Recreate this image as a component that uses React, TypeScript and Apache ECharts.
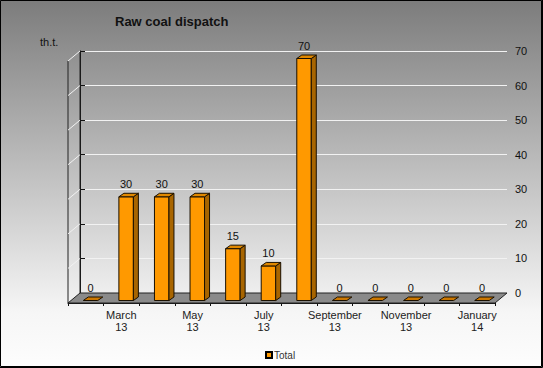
import React, { useEffect, useRef } from "react";
import * as echarts from "echarts";

const categories = [
  "February\n13", "March\n13", "April\n13", "May\n13", "June\n13", "July\n13",
  "August\n13", "September\n13", "October\n13", "November\n13", "December\n13", "January\n14",
];
const totalValues = [0, 30, 30, 30, 15, 10, 70, 0, 0, 0, 0, 0];
const yTicks = [0, 10, 20, 30, 40, 50, 60, 70];
const seriesName = "Total";
const titleText = "Raw coal dispatch";
const unitText = "th.t.";

const FONT = "'Liberation Sans', Arial, sans-serif";

export default function App() {
  const ref = useRef<HTMLDivElement>(null);
  useEffect(() => {
    if (!ref.current) return;
    const chart = echarts.init(ref.current, undefined, { renderer: "svg" });
    const DX = 5, DY = -3.5;
    const option: any = {
      animation: false,
      backgroundColor: new echarts.graphic.LinearGradient(0, 0, 0, 1, [
        { offset: 0, color: "#7c7c7c" },
        { offset: 0.85, color: "#f6f6f6" },
        { offset: 1, color: "#fdfdfd" },
      ]),
      textStyle: { fontFamily: FONT },
      title: {
        text: titleText,
        left: 110,
        top: 10,
        textStyle: { fontSize: 13, fontWeight: "bold", color: "#111", fontFamily: FONT },
      },
      legend: {
        data: [seriesName],
        left: 260,
        top: 345,
        icon: "rect",
        itemWidth: 6,
        itemHeight: 6,
        itemGap: 4,
        textStyle: { fontSize: 10, color: "#333", fontFamily: FONT, padding: [0, 0, 0, -3] },
      },
      grid: [
        { left: 80, top: 51, width: 427, height: 242 },
        { left: 68, top: 61, width: 427, height: 242 },
      ],
      xAxis: [
        { gridIndex: 0, type: "value", min: 0, max: 12, show: false },
        {
          gridIndex: 1,
          type: "category",
          data: categories,
          axisLine: { show: true, lineStyle: { color: "#111", width: 1 } },
          axisTick: { show: true, interval: 0, length: 3, lineStyle: { color: "#111" } },
          axisLabel: {
            interval: (i: number) => i % 2 === 1,
            color: "#222",
            fontSize: 11,
            lineHeight: 12,
            margin: 6,
            fontFamily: FONT,
          },
          splitLine: { show: false },
        },
      ],
      yAxis: [
        {
          gridIndex: 0,
          type: "value",
          position: "right",
          min: 0,
          max: 70,
          interval: 10,
          axisLine: { show: true, lineStyle: { color: "#111", width: 1 } },
          axisTick: { show: true, length: 5, lineStyle: { color: "#111" } },
          axisLabel: { color: "#111", fontSize: 11, margin: 8, fontFamily: FONT },
          splitLine: { show: true, lineStyle: { color: "#f2f2f2", width: 1 } },
        },
        { gridIndex: 1, type: "value", min: 0, max: 70, show: false },
      ],
      graphic: [
        {
          type: "polygon",
          z: 1,
          shape: { points: [[68, 303], [495, 303], [507, 293], [80, 293]] },
          style: { fill: "#8a8a8a", stroke: "#222", lineWidth: 1 },
        },
        {
          type: "line",
          z: 1,
          shape: { x1: 80, y1: 51, x2: 80, y2: 293 },
          style: { stroke: "#222", lineWidth: 1 },
        },
        {
          type: "line",
          z: 1,
          shape: { x1: 68, y1: 61, x2: 68, y2: 303 },
          style: { stroke: "#222", lineWidth: 1 },
        },
        {
          type: "polyline",
          z: 10,
          shape: { points: [[0.5, 0.5], [541.5, 0.5], [541.5, 366.5], [0.5, 366.5], [0.5, 0.5]] },
          style: { stroke: "#000", lineWidth: 1, fill: null },
        },
        {
          type: "polyline",
          z: 10,
          shape: { points: [[542.5, 0], [542.5, 367.5], [0, 367.5]] },
          style: { stroke: "#000", lineWidth: 1, fill: null },
        },
        {
          type: "text",
          left: 40,
          top: 36,
          style: { text: unitText, fontSize: 11, fill: "#111", fontFamily: FONT },
        },
      ],
      series: [
        {
          type: "custom",
          name: "wall",
          xAxisIndex: 0,
          yAxisIndex: 0,
          silent: true,
          z: 1,
          data: yTicks.slice(1).map((t) => [0, t]),
          encode: { x: 0, y: 1 },
          renderItem: (params: any, api: any) => {
            const p = api.coord([0, api.value(1)]);
            return {
              type: "line",
              shape: { x1: p[0], y1: p[1], x2: p[0] - 12, y2: p[1] + 10 },
              style: { stroke: "#f2f2f2", lineWidth: 1 },
            };
          },
        },
        {
          type: "custom",
          name: seriesName,
          xAxisIndex: 1,
          yAxisIndex: 1,
          z: 3,
          itemStyle: { color: "#FF9900", borderColor: "#000", borderWidth: 1 },
          data: totalValues.map((v, i) => [i, v]),
          encode: { x: 0, y: 1 },
          renderItem: (params: any, api: any) => {
            const idx = api.value(0);
            const v = api.value(1);
            const top = api.coord([idx, v]);
            const base = api.coord([idx, 0]);
            const c = base[0];
            const x0 = c - 2.5, x1 = c + 12;
            const yB = base[1] - 2.5, yT = top[1] - 2.5;
            const stroke = { stroke: "#1a1000", lineWidth: 1 };
            const children: any[] = [];
            if (v > 0) {
              children.push({
                type: "polygon",
                shape: { points: [[x0, yT], [x1, yT], [x1, yB], [x0, yB]] },
                style: { fill: "#FF9900", ...stroke },
              });
              children.push({
                type: "polygon",
                shape: { points: [[x1, yT], [x1 + DX, yT + DY], [x1 + DX, yB + DY], [x1, yB]] },
                style: { fill: "#A86500", ...stroke },
              });
            }
            children.push({
              type: "polygon",
              shape: { points: [[x0, yT], [x0 + DX, yT + DY], [x1 + DX, yT + DY], [x1, yT]] },
              style: { fill: v > 0 ? "#E08800" : "#CC7700", ...stroke },
            });
            children.push({
              type: "text",
              style: {
                text: String(v),
                x: (x0 + x1) / 2,
                y: yT + DY - 4,
                align: "center",
                verticalAlign: "bottom",
                fontSize: 11,
                fill: "#111",
                fontFamily: FONT,
              },
            });
            return { type: "group", children };
          },
        },
      ],
    };
    chart.setOption(option);
    return () => chart.dispose();
  }, []);
  return (
    <div
      ref={ref}
      style={{ position: "fixed", left: 0, top: 0, width: 543, height: 368 }}
    />
  );
}
